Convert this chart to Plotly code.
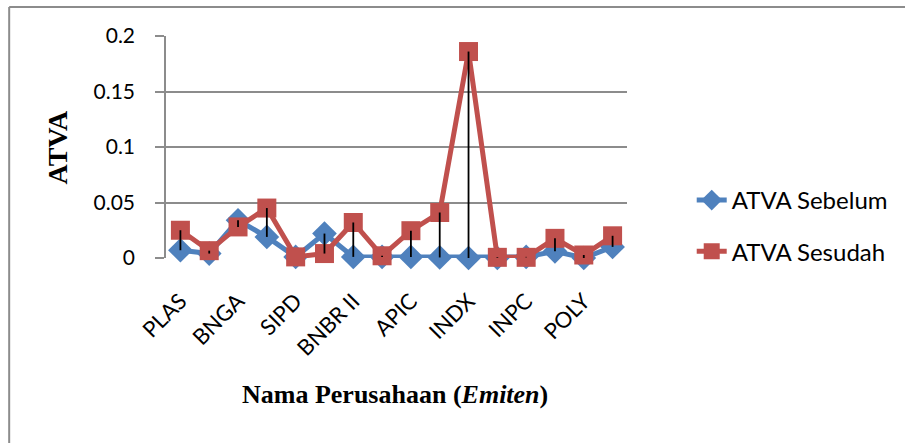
import plotly.graph_objects as go

categories = ["PLAS", "", "BNGA", "", "SIPD", "", "BNBR II", "",
              "APIC", "", "INDX", "", "INPC", "", "POLY", ""]
atva_sebelum = [0.007, 0.004, 0.034, 0.019, 0.001, 0.022, 0.001, 0.001,
                0.001, 0.0005, 0.0, 0.0, 0.001, 0.006, 0.0, 0.010]
atva_sesudah = [0.025, 0.0066, 0.028, 0.045, 0.001, 0.004, 0.032, 0.002,
                0.0246, 0.041, 0.186, 0.0006, 0.0006, 0.0177, 0.0027, 0.020]
y_ticks = [0, 0.05, 0.1, 0.15, 0.2]
y_tick_labels = ["0", "0.05", "0.1", "0.15", "0.2"]

x = list(range(len(categories)))

BLUE = "#4F81BD"
RED = "#C0504D"
GRID = "#8C8C8C"
FONT = "Lato"

# plot-area pixel geometry (page coordinates)
L, R, T, B = 166, 629, 36, 258
W, H = 905, 443

def px_x(p):
    return (p - L) / (R - L)

def px_y(p):
    return (B - p) / (B - T)

fig = go.Figure()
fig.add_trace(go.Scatter(
    x=x, y=atva_sebelum, name="ATVA Sebelum", mode="lines+markers",
    line=dict(color=BLUE, width=5),
    marker=dict(symbol="diamond", size=19, color=BLUE),
    legendgroup="a", cliponaxis=False))
fig.add_trace(go.Scatter(
    x=x, y=atva_sesudah, name="ATVA Sesudah", mode="lines+markers",
    line=dict(color=RED, width=5),
    marker=dict(symbol="square", size=19, color=RED),
    legendgroup="b", cliponaxis=False))

# high-low lines
hx, hy = [], []
for xi, a, b in zip(x, atva_sebelum, atva_sesudah):
    hx += [xi, xi, None]
    hy += [min(a, b), max(a, b), None]
fig.add_trace(go.Scatter(x=hx, y=hy, mode="lines", showlegend=False,
                         line=dict(color="black", width=1.8),
                         hoverinfo="skip", cliponaxis=False))

fig.update_layout(
    width=W, height=H,
    margin=dict(l=L, r=W - R, t=T, b=H - B),
    paper_bgcolor="white", plot_bgcolor="white",
    font=dict(family=FONT, color="black", size=18),
    legend=dict(x=px_x(694), y=px_y(226), xanchor="left", yanchor="middle",
                font=dict(family=FONT, size=24), tracegroupgap=17,
                traceorder="grouped", bgcolor="rgba(0,0,0,0)"),
    showlegend=True,
)
fig.update_xaxes(
    range=[-0.5, len(categories) - 0.5],
    tickvals=x, ticktext=categories, tickangle=-45,
    showgrid=False, zeroline=False, showline=False, ticks="",
    ticklabelstandoff=25,
    tickfont=dict(family=FONT, size=22), fixedrange=True)
fig.update_yaxes(
    range=[0, 0.2], tickvals=y_ticks, ticktext=y_tick_labels,
    showgrid=True, gridcolor=GRID, gridwidth=1.5,
    zeroline=False, showline=True, linecolor=GRID, linewidth=1.5,
    ticks="outside", ticklen=9, tickcolor=GRID, tickwidth=1.5,
    ticklabelstandoff=16,
    tickfont=dict(family=FONT, size=21), fixedrange=True)

# outer chart border (top and left visible)
fig.add_shape(type="line", xref="paper", yref="paper",
              x0=px_x(8.5), y0=px_y(7), x1=px_x(910), y1=px_y(7),
              line=dict(color=GRID, width=2))
fig.add_shape(type="line", xref="paper", yref="paper",
              x0=px_x(8.5), y0=px_y(7), x1=px_x(8.5), y1=px_y(450),
              line=dict(color=GRID, width=2))

fig.add_annotation(text="<b>ATVA</b>", xref="paper", yref="paper",
                   x=px_x(57), y=px_y(147), textangle=-90, showarrow=False,
                   font=dict(family="Liberation Serif", size=28),
                   xanchor="center", yanchor="middle")
fig.add_annotation(text="<b>Nama Perusahaan (<i>Emiten</i>)</b>",
                   xref="paper", yref="paper",
                   x=px_x(396), y=px_y(394), showarrow=False,
                   font=dict(family="Liberation Serif", size=26),
                   xanchor="center", yanchor="middle")

fig.write_html("out.html",
               config={"displayModeBar": False},
               post_script="document.body.style.margin='0px';"
                           "document.body.style.overflow='hidden';")
